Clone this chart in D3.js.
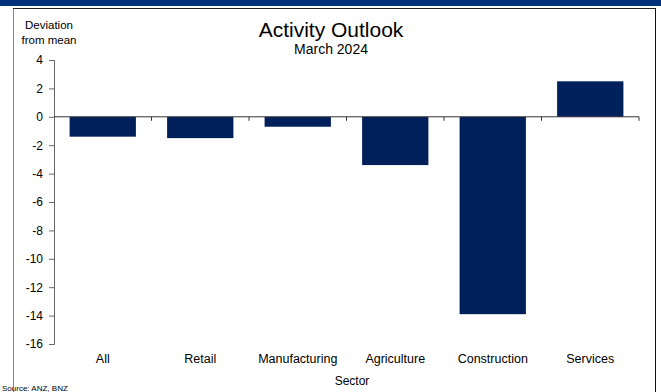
<!DOCTYPE html>
<html><head><meta charset="utf-8">
<script src="https://cdn.jsdelivr.net/npm/d3@7"></script>
<style>body{margin:0;background:#fff}svg{display:block;font-family:"Liberation Sans",Arial,sans-serif}</style>
</head><body><svg id="c" width="661" height="392"></svg>
<script>
const categories = ["All","Retail","Manufacturing","Agriculture","Construction","Services"];
const values = [-1.4,-1.5,-0.7,-3.4,-13.9,2.5];
const yTicks = [4,2,0,-2,-4,-6,-8,-10,-12,-14,-16];
const title = "Activity Outlook", subtitle = "March 2024";
const yLabel = ["Deviation","from mean"], xLabel = "Sector", source = "Source: ANZ, BNZ";

const svg = d3.select("#c");
const L = 54, R = 639, T = 60, B = 344;
svg.append("rect").attr("x",0).attr("y",0).attr("width",661).attr("height",6).attr("fill","#00307a");
svg.append("line").attr("x1",13.5).attr("x2",13.5).attr("y1",8).attr("y2",392).attr("stroke","#888");
svg.append("line").attr("x1",13).attr("x2",656).attr("y1",8.5).attr("y2",8.5).attr("stroke","#222");
svg.append("line").attr("x1",655.5).attr("x2",655.5).attr("y1",8).attr("y2",392).attr("stroke","#111");

const x = d3.scaleBand().domain(categories).range([L,R]).paddingInner(0.32).paddingOuter(0.16);
const y = d3.scaleLinear().domain([-16,4]).range([B,T]);

svg.selectAll("rect.bar").data(values).join("rect").attr("class","bar")
  .attr("x",(d,i)=>x(categories[i])).attr("width",x.bandwidth())
  .attr("y",d=>y(Math.max(0,d))).attr("height",d=>Math.abs(y(d)-y(0)))
  .attr("fill","#00205b");

// y axis
const ya = svg.append("g").attr("transform",`translate(${L},0)`)
  .call(d3.axisLeft(y).tickValues(yTicks).tickSize(5).tickPadding(6).tickFormat(d=>String(d)));
ya.select(".domain").attr("stroke","#666");
ya.selectAll(".tick line").attr("stroke","#666");
ya.selectAll("text").attr("font-size",12).attr("fill","#000").attr("font-family","Liberation Sans, Arial, sans-serif");

// zero line with ticks at band boundaries
const step = x.step();
const bounds = d3.range(categories.length+1).map(i=>L+i*step);
svg.append("line").attr("x1",L).attr("x2",R).attr("y1",y(0)).attr("y2",y(0)).attr("stroke","#333");
svg.selectAll("line.xt").data(bounds.slice(1)).join("line").attr("class","xt")
  .attr("x1",d=>d).attr("x2",d=>d).attr("y1",y(0)).attr("y2",y(0)+4).attr("stroke","#333");

// category labels
svg.selectAll("text.cat").data(categories).join("text").attr("class","cat")
  .attr("x",d=>x(d)+x.bandwidth()/2).attr("y",363).attr("text-anchor","middle")
  .attr("font-size",12.5).text(d=>d);

svg.append("text").attr("x",352).attr("y",385).attr("text-anchor","middle").attr("font-size",12).text(xLabel);
svg.append("text").attr("x",2).attr("y",391).attr("font-size",8).text(source);
svg.append("text").attr("x",331).attr("y",37).attr("text-anchor","middle").attr("font-size",21).text(title);
svg.append("text").attr("x",331).attr("y",54).attr("text-anchor","middle").attr("font-size",14).text(subtitle);
svg.selectAll("text.yl").data(yLabel).join("text").attr("class","yl")
  .attr("x",49).attr("y",(d,i)=>29+i*15).attr("text-anchor","middle").attr("font-size",11.5).text(d=>d);
</script></body></html>
